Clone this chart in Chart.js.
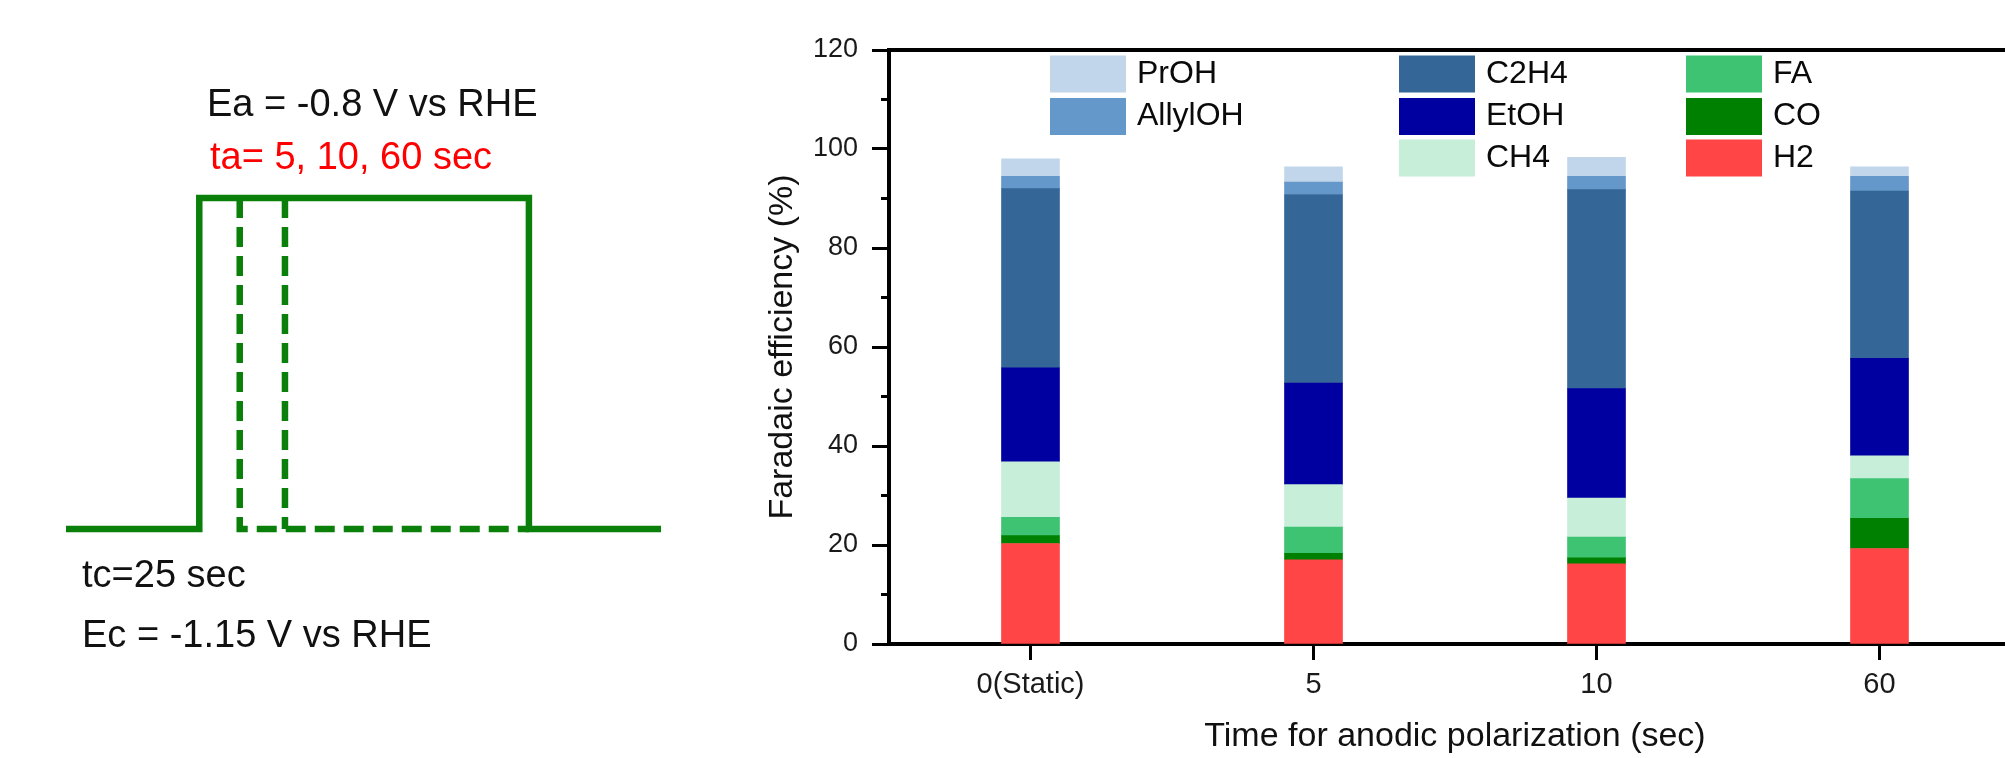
<!DOCTYPE html>
<html>
<head>
<meta charset="utf-8">
<script src="https://cdn.jsdelivr.net/npm/chart.js@4.4.0/dist/chart.umd.min.js"></script>
<style>
  html, body { margin: 0; padding: 0; background: #fff; overflow: hidden; }
  #wrap { position: relative; width: 2005px; height: 758px; overflow: hidden; }
  #pulse { position: absolute; left: 0; top: 0; }
  #fe { position: absolute; left: 740px; top: 0; }
  .lbl { position: absolute; font-family: "Liberation Sans", Arial, sans-serif; font-size: 38px; line-height: 38px; color: #111; white-space: nowrap; }
</style>
</head>
<body>
<div id="wrap">
  <canvas id="pulse" width="700" height="758"></canvas>
  <div class="lbl" style="left:207px; top:84px;">Ea = -0.8 V vs RHE</div>
  <div class="lbl" style="left:210px; top:137px; color:#ff0000;">ta= 5, 10, 60 sec</div>
  <div class="lbl" style="left:82px; top:555px;">tc=25 sec</div>
  <div class="lbl" style="left:82px; top:615px;">Ec = -1.15 V vs RHE</div>
  <canvas id="fe" width="1300" height="758"></canvas>
</div>
<script>
const FONT = '"Liberation Sans", Arial, sans-serif';
Chart.defaults.font.family = FONT;

// ---- bar chart data (Faradaic efficiency, %) ----
const categories = ['0(Static)', '5', '10', '60'];
const h2      = [20.3, 17.0, 16.2, 19.3];
const co      = [1.6, 1.3, 1.2, 6.1];
const fa      = [3.7, 5.3, 4.2, 8.0];
const ch4     = [11.2, 8.6, 7.9, 4.6];
const etoh    = [19.0, 20.5, 22.1, 19.7];
const c2h4    = [36.2, 38.1, 40.2, 33.8];
const allylOH = [2.5, 2.5, 2.7, 3.0];
const prOH    = [3.5, 3.1, 3.8, 1.9];
const minorTicks = [10, 30, 50, 70, 90, 110];

// ---- pulse schematic (normalised time / potential) ----
const pulseX = [0, 0.224, 0.224, 0.778, 0.778, 1];
const pulseY = [0, 0, 1, 1, 0, 0];
const pulse5X = [0.292, 0.292, 0.778];
const pulse5Y = [1, 0, 0];
const pulse10X = [0.368, 0.368];
const pulse10Y = [1, 0];

const pts = (xs, ys) => xs.map((x, i) => ({ x: x, y: ys[i] }));
const GREEN = '#0a7f0a';

new Chart(document.getElementById('pulse'), {
  type: 'line',
  data: {
    datasets: [
      { data: pts(pulseX, pulseY), borderColor: GREEN, borderWidth: 6.5 },
      { data: pts(pulse5X, pulse5Y), borderColor: GREEN, borderWidth: 6.5, borderDash: [20, 9] },
      { data: pts(pulse10X, pulse10Y), borderColor: GREEN, borderWidth: 6.5, borderDash: [20, 9] }
    ]
  },
  options: {
    responsive: false,
    animation: false,
    layout: { padding: { left: 66, right: 39, top: 198, bottom: 229 } },
    elements: { point: { radius: 0 }, line: { tension: 0, borderJoinStyle: 'miter', borderCapStyle: 'butt' } },
    datasets: { line: { clip: false } },
    plugins: { legend: { display: false }, tooltip: { enabled: false } },
    scales: {
      x: { type: 'linear', min: 0, max: 1, display: false },
      y: { type: 'linear', min: 0, max: 1, display: false }
    }
  }
});

// frame: top border line + minor y ticks
const framePlugin = {
  id: 'frame',
  afterDraw(chart) {
    const { ctx, chartArea: a, scales } = chart;
    ctx.save();
    ctx.strokeStyle = '#000';
    ctx.lineWidth = 4;
    ctx.beginPath();
    ctx.moveTo(a.left - 2, a.top);
    ctx.lineTo(a.right, a.top);
    ctx.stroke();
    ctx.lineWidth = 3;
    minorTicks.forEach(v => {
      const py = scales.y.getPixelForValue(v);
      ctx.beginPath();
      ctx.moveTo(a.left - 8, py);
      ctx.lineTo(a.left, py);
      ctx.stroke();
    });
    ctx.restore();
  }
};

// legend laid out in columns like the original
const gridLegend = {
  id: 'gridLegend',
  afterDraw(chart, args, opts) {
    const ctx = chart.ctx;
    ctx.save();
    ctx.font = opts.size + 'px ' + FONT;
    ctx.textBaseline = 'middle';
    opts.items.forEach(it => {
      const ds = chart.data.datasets.find(d => d.label === it.label);
      const x = opts.colX[it.col];
      const y = opts.rowY[it.row];
      ctx.fillStyle = ds.backgroundColor;
      ctx.fillRect(x, y - opts.boxH / 2, opts.boxW, opts.boxH);
      ctx.fillStyle = opts.color;
      ctx.fillText(ds.label, x + opts.boxW + opts.gap, y);
    });
    ctx.restore();
  }
};

new Chart(document.getElementById('fe'), {
  type: 'bar',
  data: {
    labels: categories,
    datasets: [
      { label: 'H2', data: h2, backgroundColor: '#ff4545' },
      { label: 'CO', data: co, backgroundColor: '#008000' },
      { label: 'FA', data: fa, backgroundColor: '#3ec373' },
      { label: 'CH4', data: ch4, backgroundColor: '#c7eed9' },
      { label: 'EtOH', data: etoh, backgroundColor: '#0000a0' },
      { label: 'C2H4', data: c2h4, backgroundColor: '#346798' },
      { label: 'AllylOH', data: allylOH, backgroundColor: '#6598ca' },
      { label: 'PrOH', data: prOH, backgroundColor: '#c2d6eb' }
    ]
  },
  plugins: [framePlugin, gridLegend],
  options: {
    responsive: false,
    animation: false,
    layout: { padding: { left: 0, right: 19, top: 50, bottom: 0 } },
    datasets: { bar: { barThickness: 58, borderWidth: 0 } },
    plugins: {
      legend: { display: false },
      tooltip: { enabled: false },
      gridLegend: {
        size: 32, color: '#0a0a0a', boxW: 76, boxH: 37, gap: 11,
        colX: [310, 659, 946],
        rowY: [74, 116.5, 158],
        items: [
          { label: 'PrOH', col: 0, row: 0 }, { label: 'AllylOH', col: 0, row: 1 },
          { label: 'C2H4', col: 1, row: 0 }, { label: 'EtOH', col: 1, row: 1 }, { label: 'CH4', col: 1, row: 2 },
          { label: 'FA', col: 2, row: 0 }, { label: 'CO', col: 2, row: 1 }, { label: 'H2', col: 2, row: 2 }
        ]
      }
    },
    scales: {
      x: {
        stacked: true,
        offset: true,
        grid: { display: true, offset: false, drawOnChartArea: false, drawTicks: true, tickLength: 16, tickWidth: 3, tickColor: '#000' },
        border: { display: true, color: '#000', width: 4 },
        ticks: { color: '#1a1a1a', font: { size: 29 }, padding: 8, maxRotation: 0 },
        title: { display: true, text: 'Time for anodic polarization (sec)', color: '#111', font: { size: 34 }, padding: { top: 0, bottom: 1 } },
        afterFit: s => { s.height = 114; }
      },
      y: {
        stacked: true,
        min: 0,
        max: 120,
        ticks: { stepSize: 20, color: '#1a1a1a', font: { size: 27 }, padding: 14 },
        grid: { display: true, drawOnChartArea: false, drawTicks: true, tickLength: 17, tickWidth: 3, tickColor: '#000' },
        border: { display: true, color: '#000', width: 4 },
        title: { display: true, text: 'Faradaic efficiency (%)', color: '#111', font: { size: 34 }, padding: { top: 22, bottom: 0 } },
        afterFit: s => { s.width = 149; }
      }
    }
  }
});
</script>
</body>
</html>
